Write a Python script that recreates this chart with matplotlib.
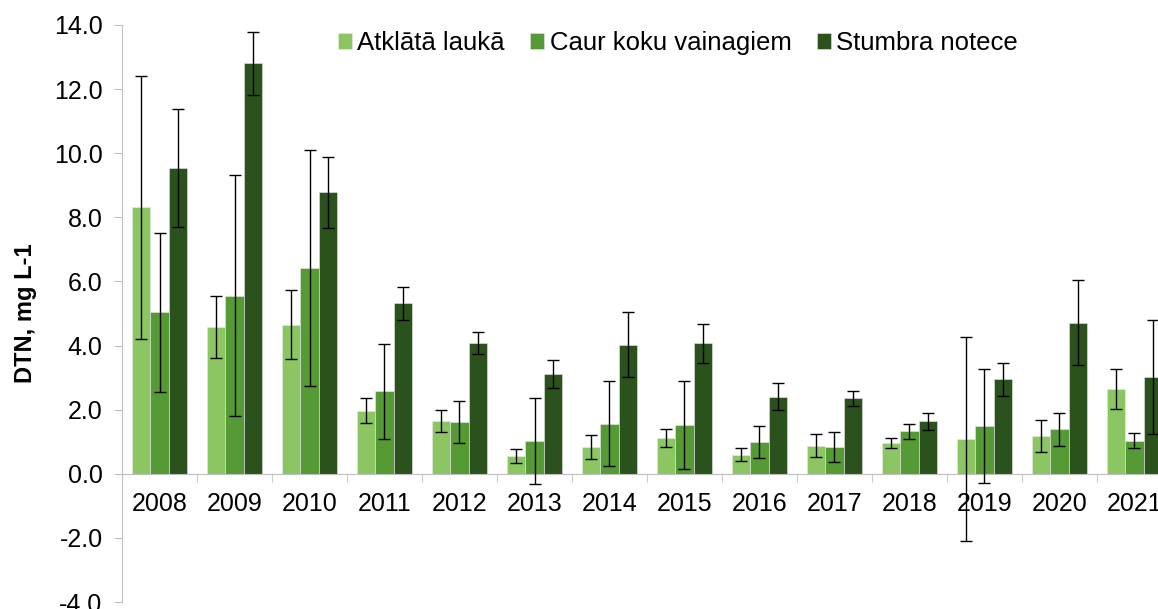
import numpy as np
import matplotlib
matplotlib.use('Agg')
import matplotlib.pyplot as plt
from matplotlib.ticker import FormatStrFormatter

plt.rcParams['font.family'] = ['Liberation Sans', 'DejaVu Sans']

years = ['2008', '2009', '2010', '2011', '2012', '2013', '2014',
         '2015', '2016', '2017', '2018', '2019', '2020', '2021']
series = ['Atklātā laukā', 'Caur koku vainagiem', 'Stumbra notece']

# mean values
open_field = [8.32, 4.58, 4.65, 1.97, 1.64, 0.56, 0.84, 1.11, 0.59, 0.88, 0.97, 1.09, 1.18, 2.65]
throughfall = [5.04, 5.55, 6.42, 2.57, 1.61, 1.02, 1.56, 1.52, 0.99, 0.83, 1.32, 1.50, 1.39, 1.03]
stemflow = [9.53, 12.81, 8.78, 5.32, 4.09, 3.12, 4.03, 4.07, 2.41, 2.35, 1.64, 2.95, 4.71, 3.02]

# error bar half-lengths
open_err = [4.10, 0.96, 1.07, 0.38, 0.34, 0.21, 0.37, 0.29, 0.20, 0.35, 0.16, 3.18, 0.50, 0.62]
through_err = [2.48, 3.76, 3.68, 1.47, 0.66, 1.34, 1.32, 1.36, 0.51, 0.46, 0.24, 1.78, 0.52, 0.24]
stem_err = [1.84, 0.98, 1.11, 0.51, 0.34, 0.44, 1.01, 0.60, 0.41, 0.24, 0.27, 0.52, 1.32, 1.78]

colors = ['#8cc663', '#559a34', '#2b521c']

fig = plt.figure(figsize=(11.58, 6.09), dpi=100)
# plot area runs a bit past the right edge, as in the original crop
ax = fig.add_axes([122 / 1158, 1 - 602 / 609, 1050 / 1158, (602 - 25) / 609])

x = np.arange(len(years))
w = 0.247
data = [(open_field, open_err), (throughfall, through_err), (stemflow, stem_err)]
for i, (vals, errs) in enumerate(data):
    ax.bar(x + (i - 1) * w, vals, w, color=colors[i], label=series[i],
           edgecolor='#e8e8e8', linewidth=0.4, zorder=2)
    ax.errorbar(x + (i - 1) * w, vals, yerr=errs, fmt='none', ecolor='black',
                elinewidth=1.0, capsize=4, capthick=1.0, zorder=3)

ax.set_xlim(-0.5, len(years) - 0.5)
ax.set_ylim(-4, 14)
ax.set_yticks(np.arange(-4, 14.1, 2))
ax.yaxis.set_major_formatter(FormatStrFormatter('%.1f'))

ax.spines['top'].set_visible(False)
ax.spines['right'].set_visible(False)
ax.spines['left'].set_color('#bfbfbf')
ax.spines['bottom'].set_color('#bfbfbf')
ax.spines['bottom'].set_position(('data', 0))

ax.set_xticks(np.arange(-0.5, len(years), 1), minor=True)
ax.set_xticks(x)
ax.set_xticklabels(years)
ax.tick_params(axis='x', which='major', length=0, pad=13, labelsize=18)
ax.tick_params(axis='x', which='minor', length=6, color='#bfbfbf')
ax.tick_params(axis='y', length=6, color='#bfbfbf', labelsize=18, pad=8)

ax.set_ylabel('DTN, mg L-1', fontsize=17, fontweight='bold', labelpad=12)

ax.legend(loc='center', bbox_to_anchor=(678 / 1158, 1 - 43 / 609),
          bbox_transform=fig.transFigure, ncol=3, frameon=False, fontsize=18.5,
          handlelength=0.55, handleheight=0.55, handletextpad=0.2,
          columnspacing=1.0)

fig.savefig('out.png', dpi=100)
